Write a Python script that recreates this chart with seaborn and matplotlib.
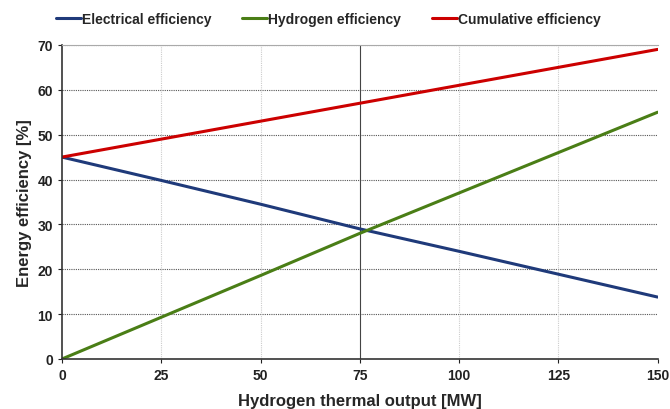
import numpy as np
import pandas as pd
import matplotlib
matplotlib.use("Agg")
import matplotlib.pyplot as plt
import seaborn as sns

output_mw = [0, 25, 50, 75, 100, 125, 150]
electrical = [45, 39.8, 34.5, 29.0, 24.0, 18.9, 13.8]
hydrogen = [0, 9.3, 18.6, 28.0, 37.0, 46.0, 55.0]
cumulative = [45, 49.0, 53.0, 57.0, 61.0, 65.0, 69.0]

series_names = ["Electrical efficiency", "Hydrogen efficiency", "Cumulative efficiency"]
colors = ["#1f3a7a", "#4a7e16", "#cc0000"]

df = pd.DataFrame({"x": output_mw, series_names[0]: electrical,
                   series_names[1]: hydrogen, series_names[2]: cumulative})
long_df = df.melt(id_vars="x", var_name="series", value_name="eff")

sns.set_style("white")
plt.rcParams['font.family'] = ['Liberation Sans', 'DejaVu Sans']
plt.rcParams['font.weight'] = 'bold'

fig = plt.figure(figsize=(6.7, 4.1), dpi=100)
ax = fig.add_axes([0.0925, 0.122, 0.889, 0.766])

sns.lineplot(data=long_df, x="x", y="eff", hue="series", hue_order=series_names,
             palette=colors, linewidth=2.2, ax=ax, legend=False)

ax.set_xlim(0, 150)
ax.set_ylim(0, 70)
ax.set_xticks(output_mw)
ax.set_yticks(range(0, 71, 10))

# grid
for yv in range(10, 71, 10):
    ax.axhline(yv, color="#555555", lw=0.8, ls=(0, (1, 1)), zorder=0)
for xv in [25, 50, 100, 125]:
    ax.axvline(xv, color="#cccccc", lw=0.8, ls=(0, (1, 1)), zorder=0)
ax.axvline(75, color="#444444", lw=0.8, zorder=0)

for side in ["left", "bottom"]:
    ax.spines[side].set_color("#333333")
    ax.spines[side].set_linewidth(1.2)
ax.spines["top"].set_color("#aaaaaa")
ax.spines["right"].set_visible(False)
ax.tick_params(axis="both", labelsize=10, colors="#222222", length=3, direction="out",
               left=True, bottom=True)
for lab in ax.get_xticklabels() + ax.get_yticklabels():
    lab.set_fontweight("bold")

ax.set_xlabel("Hydrogen thermal output [MW]", fontsize=12, fontweight="bold", labelpad=8)
ax.set_ylabel("Energy efficiency [%]", fontsize=12, fontweight="bold", labelpad=4)

handles = [plt.Line2D([], [], color=c, lw=2.2) for c in colors]
fig.legend(handles, series_names, loc="upper center", bbox_to_anchor=(0.49, 1.0),
           ncol=3, frameon=False, handlelength=1.8, handletextpad=0.1,
           columnspacing=2.2, prop={"weight": "bold", "size": 10})

fig.savefig("out.png", dpi=100)
